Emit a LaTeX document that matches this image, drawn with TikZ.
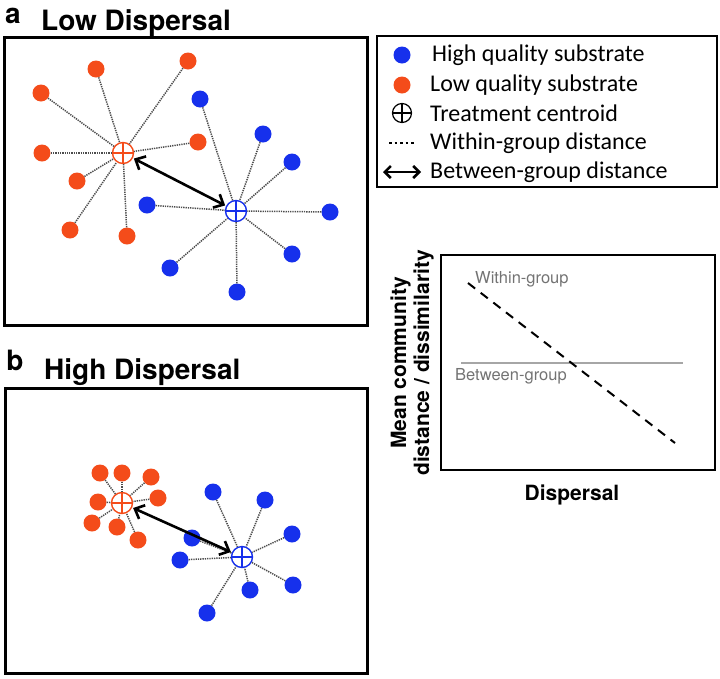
\documentclass[tikz,border=0pt]{standalone}
\usepackage{fontspec}
\setmainfont{TeX Gyre Heros}
\newfontfamily\legendfont{Carlito}
\usetikzlibrary{arrows.meta,positioning}
\definecolor{hqblue}{RGB}{22,48,236}
\definecolor{lqred}{RGB}{244,76,26}

\begin{document}
\begin{tikzpicture}[x=1pt,y=-1pt,
 panelbox/.style={draw=black,line width=3pt,inner sep=0pt},
 heading/.style={font=\bfseries\fontsize{28}{32}\selectfont,anchor=west,inner sep=0pt},
 letter/.style={font=\bfseries\fontsize{28}{32}\selectfont,inner sep=0pt},
 hqdot/.style={circle,fill=hqblue,minimum size=17pt,inner sep=0pt},
 lqdot/.style={circle,fill=lqred,minimum size=17pt,inner sep=0pt},
 centroid/.style={circle,draw=#1,fill=white,minimum size=21pt,inner sep=0pt,line width=1.4pt,
  path picture={\draw[#1,line width=1.4pt] (path picture bounding box.north)--(path picture bounding box.south)
   (path picture bounding box.west)--(path picture bounding box.east);}},
 within/.style={dash pattern=on 1.3pt off 1pt,line width=1.5pt,black!70},
 between/.style={{Straight Barb[length=8pt,width=15pt]}-{Straight Barb[length=8pt,width=15pt]},line width=2.6pt},
 legtext/.style={font=\legendfont\fontsize{24}{28}\selectfont,anchor=west,inner sep=0pt},
 axislabel/.style={font=\bfseries\fontsize{21}{23}\selectfont,align=center,inner sep=0pt},
 curvelabel/.style={font=\fontsize{16.5}{19}\selectfont,text=black!55,anchor=west,inner sep=0pt}]
\useasboundingbox (0,0) rectangle (720,678);
\node[letter] (lettera) at (13,16) {a};
\node[heading] (titlea) at (41,23) {Low Dispersal};
\node[panelbox,minimum width=363pt,minimum height=288pt] (boxa) at (185.5,181) {};
\node[centroid=lqred] (rca) at (123,153) {};
\node[centroid=hqblue] (bca) at (236,211) {};
\foreach \x/\y [count=\i] in {96/69,188/61,41/93,198/142,42/153,77/181,70/230,127/236}{
 \node[lqdot] (ra\i) at (\x,\y) {};
 \draw[within] (ra\i)--(rca);
}
\foreach \x/\y [count=\i] in {200/99,263/134,292/162,147/205,330/212,292/254,170/268,237/292}{
 \node[hqdot] (ba\i) at (\x,\y) {};
 \draw[within] (ba\i)--(bca);
}
\draw[between,shorten <=1pt,shorten >=1pt] (rca)--(bca);

\node[panelbox,line width=2pt,minimum width=340pt,minimum height=151pt] (legend) at (547,111.5) {};
\node[hqdot] (leghq) at (402,55) {};
\node[lqdot] (leglq) at (402,85) {};
\node[centroid=black,minimum size=19pt,line width=1.2pt] (legcen) at (402,113) {};
\coordinate (legwa) at (389,143);
\coordinate (legwb) at (416,143);
\coordinate (legba) at (383,172);
\coordinate (legbb) at (421,172);
\draw[dash pattern=on 2.5pt off 3pt,line width=2.2pt] (legwa)--(legwb);
\draw[{Straight Barb[length=6pt,width=12pt]}-{Straight Barb[length=6pt,width=12pt]},line width=2.5pt] (legba)--(legbb);
\node[legtext] (txhq) at (432,55) {High quality substrate};
\node[legtext] (txlq) at (430,85) {Low quality substrate};
\node[legtext] (txcen) at (430,113) {Treatment centroid};
\node[legtext] (txwi) at (430,143) {Within-group distance};
\node[legtext] (txbe) at (430,172) {Between-group distance};

\node[panelbox,line width=2.5pt,minimum width=274pt,minimum height=215pt] (plot) at (578,362.5) {};
\draw[gray!70,line width=2.2pt] (461,363)--(683,363);
\draw[dash pattern=on 9pt off 7pt,line width=2pt] (468,283)--(675,443);
\node[curvelabel] (wlab) at (475,279) {Within-group};
\node[curvelabel] (blab) at (455,376) {Between-group};
\node[axislabel,rotate=90] (ylab) at (412,363) {Mean community\\distance / dissimilarity};
\node[axislabel] (xlab) at (572,495) {Dispersal};

\node[letter] (letterb) at (15,360) {b};
\node[heading] (titleb) at (44,372) {High Dispersal};
\node[panelbox,minimum width=362pt,minimum height=285pt] (boxb) at (186,530.5) {};
\node[centroid=lqred] (rcb) at (122,503) {};
\node[centroid=hqblue] (bcb) at (242,557) {};
\foreach \x/\y [count=\i] in {100/473,122/473,151/477,98/502,158/498,92/523,117/527,138/540}{
 \node[lqdot] (rb\i) at (\x,\y) {};
 \draw[within] (rb\i)--(rcb);
}
\foreach \x/\y [count=\i] in {213/492,265/500,292/534,192/538,180/560,293/585,250/590,207/613}{
 \node[hqdot] (bb\i) at (\x,\y) {};
 \draw[within] (bb\i)--(bcb);
}
\draw[between,shorten <=1pt,shorten >=1pt] (rcb)--(bcb);
\end{tikzpicture}
\end{document}
